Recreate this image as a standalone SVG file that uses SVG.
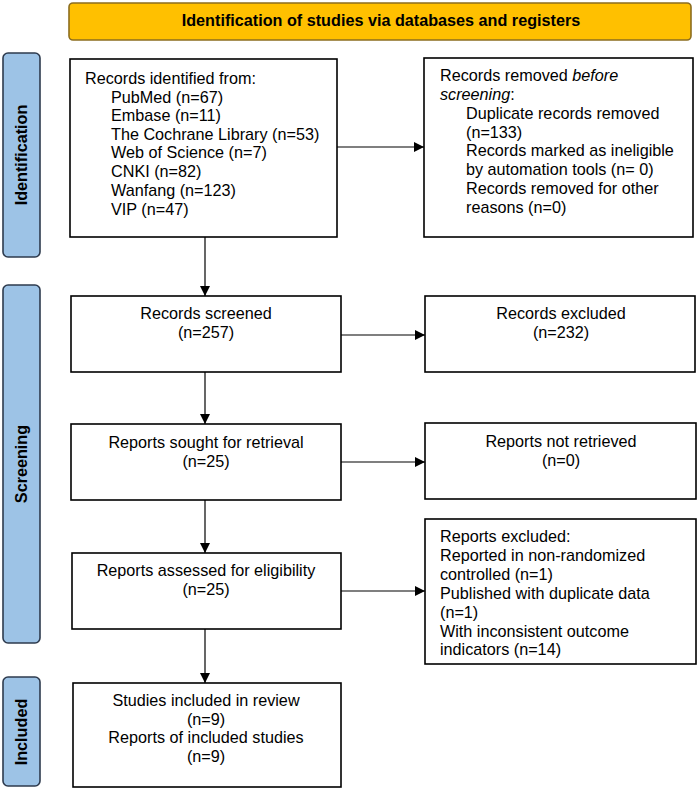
<svg xmlns="http://www.w3.org/2000/svg" width="699" height="789" viewBox="0 0 699 789">
<style>
.box{fill:#fff;stroke:#000;stroke-width:1.6}
.side{fill:#9DC3E6;stroke:#2E3B4E;stroke-width:1.6}
.hdr{fill:#FFC000;stroke:#8C6D1F;stroke-width:1.6}
text{font-family:"Liberation Sans",Arial,sans-serif;font-size:16.2px;fill:#000}
.c{text-anchor:middle}
.b{font-weight:bold;font-size:16.2px}
.conn line{stroke:#000;stroke-width:1.2}
</style>
<defs>
<marker id="ah" viewBox="0 0 10 10" refX="10" refY="5" markerWidth="10" markerHeight="10" markerUnits="userSpaceOnUse" orient="auto">
<path d="M0,0 L10,5 L0,10 z" fill="#000"/>
</marker>
</defs>
<rect width="699" height="789" fill="#fff"/>
<g id="header">
<rect class="hdr" x="69" y="3" width="622" height="37" rx="4"/>
<text class="c b" x="381" y="26">Identification of studies via databases and registers</text>
</g>
<g id="lbl-identification">
<rect class="side" x="3" y="53" width="37" height="204" rx="5"/>
<text class="c b" transform="translate(27,155) rotate(-90)">Identification</text>
</g>
<g id="lbl-screening">
<rect class="side" x="3" y="285" width="37" height="358" rx="5"/>
<text class="c b" transform="translate(27,464) rotate(-90)">Screening</text>
</g>
<g id="lbl-included">
<rect class="side" x="3" y="677" width="37" height="109" rx="5"/>
<text class="c b" transform="translate(27,732) rotate(-90)">Included</text>
</g>
<g id="identified">
<rect class="box" x="70" y="59" width="267" height="178"/>
<text x="85" y="84">Records identified from:</text>
<text x="111" y="103">PubMed (n=67)</text>
<text x="111" y="121">Embase (n=11)</text>
<text x="111" y="140">The Cochrane Library (n=53)</text>
<text x="111" y="158">Web of Science (n=7)</text>
<text x="111" y="177">CNKI (n=82)</text>
<text x="111" y="196">Wanfang (n=123)</text>
<text x="111" y="215">VIP (n=47)</text>
</g>
<g id="removed">
<rect class="box" x="424" y="58" width="269" height="179"/>
<text x="440" y="81">Records removed <tspan font-style="italic">before</tspan></text>
<text x="440" y="100"><tspan font-style="italic">screening</tspan>:</text>
<text x="466" y="119">Duplicate records removed</text>
<text x="466" y="138">(n=133)</text>
<text x="466" y="156">Records marked as ineligible</text>
<text x="466" y="175">by automation tools (n= 0)</text>
<text x="466" y="194">Records removed for other</text>
<text x="466" y="213">reasons (n=0)</text>
</g>
<g id="screened">
<rect class="box" x="71" y="296" width="270" height="76"/>
<text class="c" x="206" y="319">Records screened</text>
<text class="c" x="206" y="338">(n=257)</text>
</g>
<g id="excluded">
<rect class="box" x="425" y="296" width="270" height="76"/>
<text class="c" x="561" y="319">Records excluded</text>
<text class="c" x="561" y="338">(n=232)</text>
</g>
<g id="sought">
<rect class="box" x="71" y="424" width="270" height="76"/>
<text class="c" x="206" y="448">Reports sought for retrieval</text>
<text class="c" x="206" y="467">(n=25)</text>
</g>
<g id="notretrieved">
<rect class="box" x="425" y="423" width="271" height="76"/>
<text class="c" x="561" y="447">Reports not retrieved</text>
<text class="c" x="561" y="466">(n=0)</text>
</g>
<g id="assessed">
<rect class="box" x="72" y="553" width="269" height="76"/>
<text class="c" x="206" y="576">Reports assessed for eligibility</text>
<text class="c" x="206" y="595">(n=25)</text>
</g>
<g id="reportsexcluded">
<rect class="box" x="425" y="519" width="271" height="145"/>
<text x="440" y="542">Reports excluded:</text>
<text x="440" y="561">Reported in non-randomized</text>
<text x="440" y="580">controlled (n=1)</text>
<text x="440" y="599">Published with duplicate data</text>
<text x="440" y="618">(n=1)</text>
<text x="440" y="637">With inconsistent outcome</text>
<text x="440" y="655">indicators (n=14)</text>
</g>
<g id="included">
<rect class="box" x="73" y="683" width="268" height="104"/>
<text class="c" x="206" y="706">Studies included in review</text>
<text class="c" x="206" y="725">(n=9)</text>
<text class="c" x="206" y="743">Reports of included studies</text>
<text class="c" x="206" y="762">(n=9)</text>
</g>
<g class="conn" id="connectors">
<line x1="337" y1="147" x2="424" y2="147" marker-end="url(#ah)"/>
<line x1="205" y1="237" x2="205" y2="296" marker-end="url(#ah)"/>
<line x1="341" y1="335" x2="425" y2="335" marker-end="url(#ah)"/>
<line x1="205" y1="372" x2="205" y2="424" marker-end="url(#ah)"/>
<line x1="341" y1="462" x2="425" y2="462" marker-end="url(#ah)"/>
<line x1="205" y1="500" x2="205" y2="553" marker-end="url(#ah)"/>
<line x1="341" y1="591" x2="425" y2="591" marker-end="url(#ah)"/>
<line x1="205" y1="629" x2="205" y2="683" marker-end="url(#ah)"/>
</g>
</svg>
